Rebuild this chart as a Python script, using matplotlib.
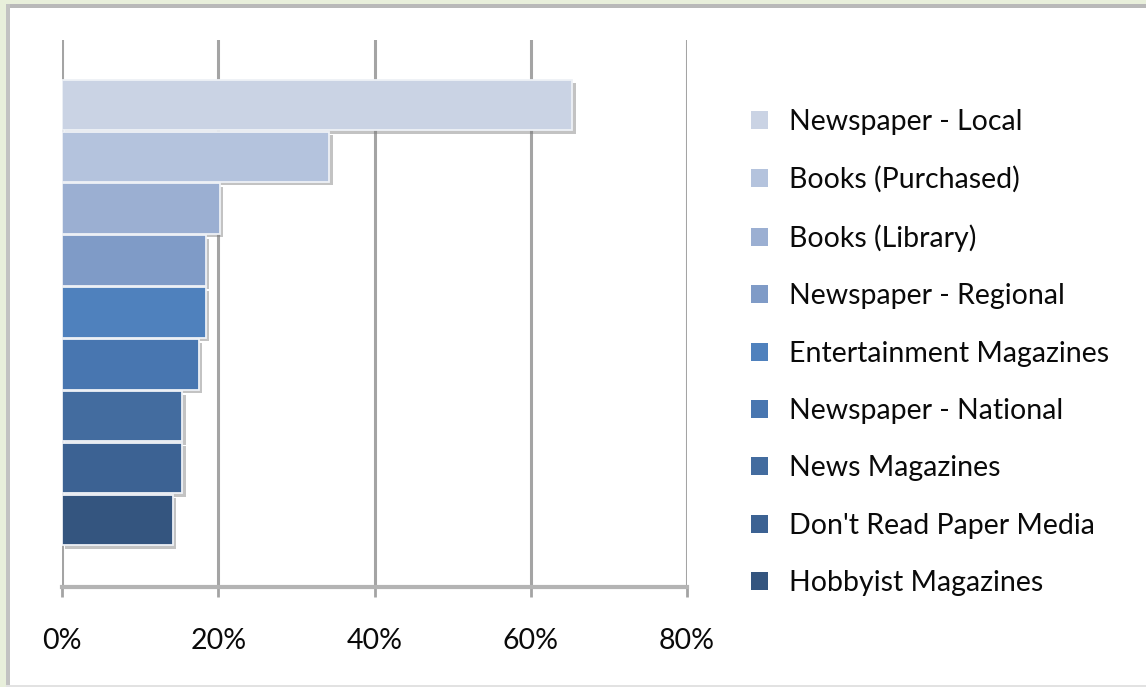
# share of respondents reading each kind of paper media

import matplotlib
matplotlib.use('Agg')
import matplotlib.pyplot as plt
import matplotlib.patheffects as pe
from matplotlib.patches import Rectangle

media = ['Newspaper - Local', 'Books (Purchased)', 'Books (Library)',
         'Newspaper - Regional', 'Entertainment Magazines',
         'Newspaper - National', 'News Magazines',
         "Don't Read Paper Media", 'Hobbyist Magazines']
share = [65.3, 34.2, 20.2, 18.4, 18.4, 17.5, 15.4, 15.4, 14.2]
colors = ['#CAD3E4', '#B4C3DD', '#9BAFD2', '#7F9BC7', '#4F81BD',
          '#4876B0', '#436C9F', '#3C6293', '#34557F']
ticks = [0, 20, 40, 60, 80]
tick_labels = ['0%', '20%', '40%', '60%', '80%']

plt.rcParams['font.family'] = ['Lato', 'DejaVu Sans']

fig = plt.figure(figsize=(11.46, 6.87), dpi=100)
fig.patch.set_facecolor('white')

# greenish page border on the top and left, thin grey edges
W, H = 1146, 687
def frame_rect(x, y, w, h, color):
    fig.add_artist(Rectangle((x / W, 1 - (y + h) / H), w / W, h / H,
                             transform=fig.transFigure, color=color,
                             lw=0, zorder=0))

frame_rect(0, 0, W, 4, '#E8EFDB')
frame_rect(0, 0, 6, H, '#E8EFDB')
frame_rect(6, 4, W, 4, '#B9B9B9')
frame_rect(6, 4, 4, H, '#C2C2C2')
frame_rect(6, 685, W, 2, '#E2E2E2')

ax = fig.add_axes([62 / W, 1 - 587 / H, 625 / W, 547 / H])
ax.set_facecolor('none')

shadow = [pe.SimplePatchShadow(offset=(2.5, -2.5), shadow_rgbFace='#7A7A7A',
                               alpha=0.45), pe.Normal()]

for i, (name, val) in enumerate(zip(media, share)):
    ax.barh(i, val, height=0.97, color=colors[i], edgecolor='#EEF1F6',
            linewidth=1.3, label=name, zorder=3, path_effects=shadow)

ax.set_xlim(0, 80)
ax.set_ylim(9.29, -1.25)

# vertical gridlines and the bottom axis line
for t in ticks:
    ax.axvline(t, color='#A4A4A4', linewidth=2.2, zorder=1)
for side in ['top', 'right', 'left']:
    ax.spines[side].set_visible(False)
ax.spines['bottom'].set_color('#B4B4B4')
ax.spines['bottom'].set_linewidth(3)
ax.spines['bottom'].set_zorder(2)

ax.set_xticks(ticks)
ax.set_xticklabels(tick_labels)
ax.set_yticks([])
ax.tick_params(axis='x', length=7.5, width=2, color='#A4A4A4',
               pad=22, labelsize=20.5, labelcolor='#0A0A0A')

leg = fig.legend(loc='upper left', bbox_to_anchor=(751 / W, 1 - 109 / H),
                 frameon=False, fontsize=20.5, handlelength=0.6,
                 handleheight=0.6, handletextpad=0.75, labelspacing=1.1,
                 borderpad=0, borderaxespad=0)
for txt in leg.get_texts():
    txt.set_color('#0A0A0A')
for h in leg.legend_handles:
    h.set_path_effects([])
    h.set_edgecolor('none')

fig.savefig('out.png', dpi=100, facecolor=fig.get_facecolor())
